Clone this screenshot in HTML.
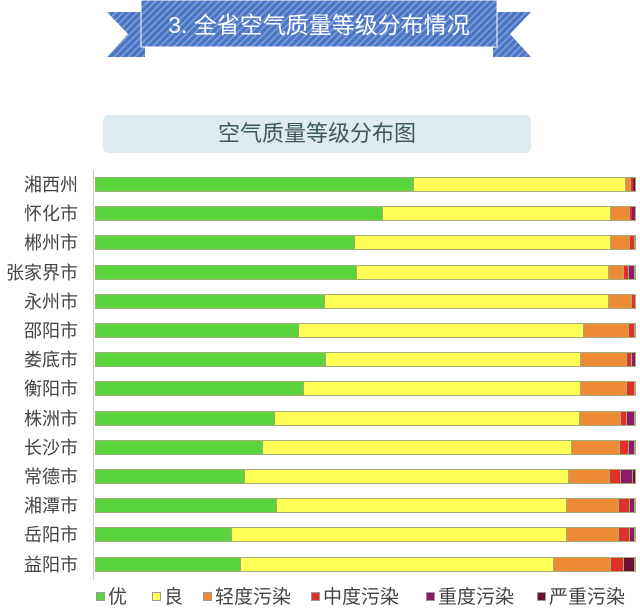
<!DOCTYPE html>
<html><head><meta charset="utf-8"><style>
body{margin:0;width:640px;height:609px;background:#fff;position:relative;overflow:hidden;font-family:"Liberation Sans","Noto Sans CJK SC",sans-serif}
.a{position:absolute}
.lbl{position:absolute;left:0;width:78px;text-align:right;font-size:18px;color:#444;line-height:20px}
.bar{position:absolute;left:95px;height:15px;display:flex;width:541px;box-sizing:border-box;border:1px solid #a4ad78}
.bar div{height:100%;box-sizing:border-box;border-right:1px solid #a4ad78}
.leg{position:absolute;top:586px;font-size:19px;color:#444;line-height:24px}
.leg i{display:inline-block;width:9px;height:9px;margin-right:3px;vertical-align:2px;border:1px solid #999;box-sizing:border-box}
</style></head><body>
<svg class="a" style="left:0;top:0" width="640" height="70">
<defs><pattern id="p" width="5" height="5" patternUnits="userSpaceOnUse" patternTransform="rotate(45)"><rect width="5" height="5" fill="#4a74c4"/><rect width="1.6" height="5" fill="#7f9fd8"/></pattern></defs>
<polygon points="107,12 145,12 145,57 107,57 128,34" fill="url(#p)"/>
<polygon points="531,12 493,12 493,57 531,57 510,34" fill="url(#p)"/>
<rect x="141" y="0" width="356" height="47" fill="url(#p)" stroke="#fff" stroke-width="1"/>
<text x="319" y="33" text-anchor="middle" font-size="23" fill="#fff" font-family="Liberation Sans,Noto Sans CJK SC,sans-serif">3. 全省空气质量等级分布情况</text>
</svg>
<div class="a" style="left:103px;top:115px;width:428px;height:38px;background:#dfeaf1;border-radius:6px;text-align:center;font-size:22px;line-height:38px;color:#3d5a5a">空气质量等级分布图</div>
<div class="a" style="left:93px;top:170px;width:1px;height:410px;background:#ccc"></div>
<div id="c"></div>
<div class="leg" style="left:96px"><i style="background:#5ad43c"></i>优</div>
<div class="leg" style="left:152px"><i style="background:#ffff55"></i>良</div>
<div class="leg" style="left:203px"><i style="background:#ec8a36"></i>轻度污染</div>
<div class="leg" style="left:311px"><i style="background:#e0302a"></i>中度污染</div>
<div class="leg" style="left:426px"><i style="background:#8c1a6a"></i>重度污染</div>
<div class="leg" style="left:537px"><i style="background:#6a1030"></i>严重污染</div>
<script>
var d=[["湘西州",414,627,632,634,635],["怀化市",383,612,631,633,636],["郴州市",355,612,631,636,636],["张家界市",357,610,625,630,636],["永州市",325,610,633,636,636],["邵阳市",299,585,630,636,636],["娄底市",326,582,628,633,636],["衡阳市",304,582,628,636,636],["株洲市",275,581,622,628,636],["长沙市",263,573,621,630,636],["常德市",245,570,611,622,634],["湘潭市",277,568,620,631,636],["岳阳市",231,568,620,631,636],["益阳市",241,555,612,625,625]];
var col=["#5ad43c","#ffff55","#ec8a36","#e0302a","#8c1a6a","#6a1030"],h="";
d.forEach(function(r,i){var y=177+i*29.2;h+='<div class="lbl" style="top:'+(y-2)+'px">'+r[0]+'</div><div class="bar" style="top:'+y+'px">';var p=95,b=r.slice(1).concat([636]);b.forEach(function(x,j){if(x>p){h+='<div style="width:'+(x-p)+'px;background:'+col[j]+(x-p<4?';border-right:0':'')+'"></div>';p=x;}});h+='</div>';});
document.getElementById("c").innerHTML=h;
</script>
</body></html>
